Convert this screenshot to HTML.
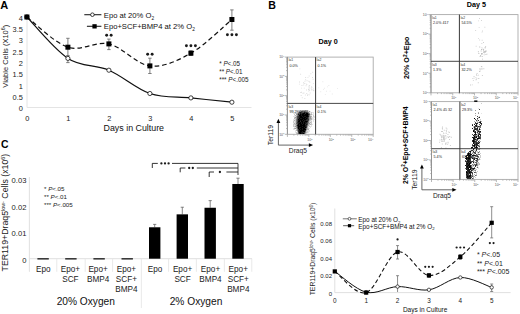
<!DOCTYPE html><html><head><meta charset="utf-8"><style>html,body{margin:0;padding:0;background:#fff;overflow:hidden;}svg{display:block;font-family:"Liberation Sans", sans-serif;}</style></head><body><svg width="520" height="314" viewBox="0 0 520 314"><defs><filter id="soft" x="-10%" y="-10%" width="120%" height="120%"><feGaussianBlur stdDeviation="0.45"/></filter></defs><text x="0.20" y="8.80" font-size="11.0" text-anchor="start" font-weight="bold" fill="#000" >A</text>
<line x1="27.0" y1="14" x2="27.0" y2="107.5" stroke="#e4e4e4" stroke-width="1"/>
<line x1="27.0" y1="107.5" x2="251.5" y2="107.5" stroke="#e4e4e4" stroke-width="1"/>
<text x="22.80" y="111.30" font-size="7.4" text-anchor="end" font-weight="normal" fill="#222" >0</text>
<text x="22.80" y="99.97" font-size="7.4" text-anchor="end" font-weight="normal" fill="#222" >0.5</text>
<text x="22.80" y="88.65" font-size="7.4" text-anchor="end" font-weight="normal" fill="#222" >1</text>
<text x="22.80" y="77.33" font-size="7.4" text-anchor="end" font-weight="normal" fill="#222" >1.5</text>
<text x="22.80" y="66.00" font-size="7.4" text-anchor="end" font-weight="normal" fill="#222" >2</text>
<text x="22.80" y="54.68" font-size="7.4" text-anchor="end" font-weight="normal" fill="#222" >2.5</text>
<text x="22.80" y="43.35" font-size="7.4" text-anchor="end" font-weight="normal" fill="#222" >3</text>
<text x="22.80" y="32.03" font-size="7.4" text-anchor="end" font-weight="normal" fill="#222" >3.5</text>
<text x="22.80" y="20.70" font-size="7.4" text-anchor="end" font-weight="normal" fill="#222" >4</text>
<text x="27.20" y="121.00" font-size="7.4" text-anchor="middle" font-weight="normal" fill="#222" >0</text>
<text x="68.20" y="121.00" font-size="7.4" text-anchor="middle" font-weight="normal" fill="#222" >1</text>
<text x="109.20" y="121.00" font-size="7.4" text-anchor="middle" font-weight="normal" fill="#222" >2</text>
<text x="150.20" y="121.00" font-size="7.4" text-anchor="middle" font-weight="normal" fill="#222" >3</text>
<text x="191.20" y="121.00" font-size="7.4" text-anchor="middle" font-weight="normal" fill="#222" >4</text>
<text x="232.20" y="121.00" font-size="7.4" text-anchor="middle" font-weight="normal" fill="#222" >5</text>
<text x="133.80" y="130.60" font-size="8.85" text-anchor="middle" font-weight="normal" fill="#111" >Days in Culture</text>
<text transform="translate(7.9,56.2) rotate(-90)" font-size="7.5" text-anchor="middle" fill="#222">Viable Cells (X10<tspan font-size="5.4" dy="-2.6">6</tspan><tspan dy="2.6">)</tspan></text>
<line x1="67.90" y1="38.3" x2="67.90" y2="55.5" stroke="#707070" stroke-width="0.9"/>
<line x1="66.20" y1="38.3" x2="69.60" y2="38.3" stroke="#707070" stroke-width="0.9"/>
<line x1="66.20" y1="55.5" x2="69.60" y2="55.5" stroke="#707070" stroke-width="0.9"/>
<line x1="108.90" y1="39.1" x2="108.90" y2="49.6" stroke="#707070" stroke-width="0.9"/>
<line x1="107.20" y1="39.1" x2="110.60" y2="39.1" stroke="#707070" stroke-width="0.9"/>
<line x1="107.20" y1="49.6" x2="110.60" y2="49.6" stroke="#707070" stroke-width="0.9"/>
<line x1="149.90" y1="58.2" x2="149.90" y2="73.5" stroke="#707070" stroke-width="0.9"/>
<line x1="148.20" y1="58.2" x2="151.60" y2="58.2" stroke="#707070" stroke-width="0.9"/>
<line x1="148.20" y1="73.5" x2="151.60" y2="73.5" stroke="#707070" stroke-width="0.9"/>
<line x1="190.90" y1="50.8" x2="190.90" y2="55.5" stroke="#707070" stroke-width="0.9"/>
<line x1="189.20" y1="50.8" x2="192.60" y2="50.8" stroke="#707070" stroke-width="0.9"/>
<line x1="189.20" y1="55.5" x2="192.60" y2="55.5" stroke="#707070" stroke-width="0.9"/>
<line x1="231.90" y1="9.9" x2="231.90" y2="30.2" stroke="#707070" stroke-width="0.9"/>
<line x1="230.20" y1="9.9" x2="233.60" y2="9.9" stroke="#707070" stroke-width="0.9"/>
<line x1="230.20" y1="30.2" x2="233.60" y2="30.2" stroke="#707070" stroke-width="0.9"/>
<line x1="67.90" y1="55.0" x2="67.90" y2="62.6" stroke="#707070" stroke-width="0.9"/>
<line x1="66.20" y1="62.6" x2="69.60" y2="62.6" stroke="#707070" stroke-width="0.9"/>
<path d="M26.90,17.00 C33.73,23.90 54.23,49.53 67.90,58.40 C81.57,67.27 95.23,64.35 108.90,70.20 C122.57,76.05 136.23,88.88 149.90,93.50 C163.57,98.12 177.23,96.45 190.90,97.90 C204.57,99.35 225.07,101.48 231.90,102.20" fill="none" stroke="#111" stroke-width="1.2"/>
<path d="M26.90,17.00 C33.73,22.03 54.23,42.72 67.90,47.20 C81.57,51.68 95.23,40.78 108.90,43.90 C122.57,47.02 136.23,64.35 149.90,65.90 C163.57,67.45 177.23,60.93 190.90,53.20 C204.57,45.47 225.07,25.12 231.90,19.50" fill="none" stroke="#111" stroke-width="1.2" stroke-dasharray="4.6,3"/>
<circle cx="26.90" cy="17.0" r="2.1" fill="#fff" stroke="#111" stroke-width="0.8"/>
<circle cx="67.90" cy="58.4" r="2.1" fill="#fff" stroke="#111" stroke-width="0.8"/>
<circle cx="108.90" cy="70.2" r="2.1" fill="#fff" stroke="#111" stroke-width="0.8"/>
<circle cx="149.90" cy="93.5" r="2.1" fill="#fff" stroke="#111" stroke-width="0.8"/>
<circle cx="190.90" cy="97.9" r="2.1" fill="#fff" stroke="#111" stroke-width="0.8"/>
<circle cx="231.90" cy="102.2" r="2.1" fill="#fff" stroke="#111" stroke-width="0.8"/>
<rect x="24.40" y="14.5" width="5" height="5" fill="#000"/>
<rect x="65.40" y="44.7" width="5" height="5" fill="#000"/>
<rect x="106.40" y="41.4" width="5" height="5" fill="#000"/>
<rect x="147.40" y="63.400000000000006" width="5" height="5" fill="#000"/>
<rect x="188.40" y="50.7" width="5" height="5" fill="#000"/>
<rect x="229.40" y="17.0" width="5" height="5" fill="#000"/>
<circle cx="106.65" cy="35.30" r="1.45" fill="#1a1a1a"/>
<circle cx="111.15" cy="35.30" r="1.45" fill="#1a1a1a"/>
<circle cx="147.65" cy="54.30" r="1.45" fill="#1a1a1a"/>
<circle cx="152.15" cy="54.30" r="1.45" fill="#1a1a1a"/>
<circle cx="186.40" cy="45.80" r="1.45" fill="#1a1a1a"/>
<circle cx="190.90" cy="45.80" r="1.45" fill="#1a1a1a"/>
<circle cx="195.40" cy="45.80" r="1.45" fill="#1a1a1a"/>
<circle cx="227.40" cy="34.70" r="1.45" fill="#1a1a1a"/>
<circle cx="231.90" cy="34.70" r="1.45" fill="#1a1a1a"/>
<circle cx="236.40" cy="34.70" r="1.45" fill="#1a1a1a"/>
<line x1="84.3" y1="14.7" x2="101.4" y2="14.7" stroke="#222" stroke-width="1.1"/>
<circle cx="92.4" cy="14.7" r="1.8" fill="#fff" stroke="#111" stroke-width="0.8"/>
<text x="103.8" y="18.0" font-size="7.65" fill="#111">Epo at 20% O<tspan font-size="4.8" dy="2.2">2</tspan></text>
<line x1="86.9" y1="26.3" x2="101.4" y2="26.3" stroke="#222" stroke-width="1.1"/>
<rect x="92.4" y="24.2" width="4.3" height="4.3" fill="#000"/>
<text x="103.8" y="28.8" font-size="7.65" fill="#111">Epo+SCF+BMP4 at 2% O<tspan font-size="4.8" dy="2.2">2</tspan></text>
<text x="219.2" y="66.2" font-size="6.3" fill="#222">* <tspan font-style="italic">P</tspan>&lt;.05</text>
<text x="219.2" y="73.9" font-size="6.3" fill="#222">** <tspan font-style="italic">P</tspan>&lt;.01</text>
<text x="219.2" y="81.6" font-size="6.3" fill="#222">*** <tspan font-style="italic">P</tspan>&lt;.005</text>
<text x="268.20" y="8.50" font-size="10.6" text-anchor="start" font-weight="bold" fill="#000" >B</text>
<text x="328.20" y="43.80" font-size="7.2" text-anchor="middle" font-weight="bold" fill="#000" >Day 0</text>
<text x="476.40" y="7.20" font-size="7.2" text-anchor="middle" font-weight="bold" fill="#000" >Day 5</text>
<path d="M284.80,134.30H287.40M287.40,134.30V136.90M286.10,128.49H287.40M293.86,134.30V135.60M286.10,125.09H287.40M297.63,134.30V135.60M286.10,122.68H287.40M300.31,134.30V135.60M286.10,120.81H287.40M302.39,134.30V135.60M286.10,119.28H287.40M304.09,134.30V135.60M286.10,117.99H287.40M305.53,134.30V135.60M286.10,116.87H287.40M306.77,134.30V135.60M286.10,115.88H287.40M307.87,134.30V135.60M284.80,115.00H287.40M308.85,134.30V136.90M286.10,109.19H287.40M315.31,134.30V135.60M286.10,105.79H287.40M319.08,134.30V135.60M286.10,103.38H287.40M321.76,134.30V135.60M286.10,101.51H287.40M323.84,134.30V135.60M286.10,99.98H287.40M325.54,134.30V135.60M286.10,98.69H287.40M326.98,134.30V135.60M286.10,97.57H287.40M328.22,134.30V135.60M286.10,96.58H287.40M329.32,134.30V135.60M284.80,95.70H287.40M330.30,134.30V136.90M286.10,89.89H287.40M336.76,134.30V135.60M286.10,86.49H287.40M340.53,134.30V135.60M286.10,84.08H287.40M343.21,134.30V135.60M286.10,82.21H287.40M345.29,134.30V135.60M286.10,80.68H287.40M346.99,134.30V135.60M286.10,79.39H287.40M348.43,134.30V135.60M286.10,78.27H287.40M349.67,134.30V135.60M286.10,77.28H287.40M350.77,134.30V135.60M284.80,76.40H287.40M351.75,134.30V136.90M286.10,70.59H287.40M358.21,134.30V135.60M286.10,67.19H287.40M361.98,134.30V135.60M286.10,64.78H287.40M364.66,134.30V135.60M286.10,62.91H287.40M366.74,134.30V135.60M286.10,61.38H287.40M368.44,134.30V135.60M286.10,60.09H287.40M369.88,134.30V135.60M286.10,58.97H287.40M371.12,134.30V135.60M286.10,57.98H287.40M372.22,134.30V135.60M284.80,57.10H287.40M373.20,134.30V136.90" stroke="#888" stroke-width="0.6" fill="none"/>
<rect x="287.40" y="57.10" width="85.80" height="77.20" fill="none" stroke="#aaa" stroke-width="0.9"/>
<line x1="287.40" y1="57.1" x2="287.40" y2="134.3" stroke="#909090" stroke-width="0.9"/>
<text x="284.40" y="135.60" font-size="3.5" text-anchor="end" fill="#555">10<tspan font-size="2.4" dy="-1.3">0</tspan></text>
<text x="284.40" y="116.30" font-size="3.5" text-anchor="end" fill="#555">10<tspan font-size="2.4" dy="-1.3">1</tspan></text>
<text x="309.85" y="140.90" font-size="3.5" text-anchor="middle" fill="#555">10<tspan font-size="2.4" dy="-1.3">1</tspan></text>
<text x="284.40" y="97.00" font-size="3.5" text-anchor="end" fill="#555">10<tspan font-size="2.4" dy="-1.3">2</tspan></text>
<text x="331.30" y="140.90" font-size="3.5" text-anchor="middle" fill="#555">10<tspan font-size="2.4" dy="-1.3">2</tspan></text>
<text x="284.40" y="77.70" font-size="3.5" text-anchor="end" fill="#555">10<tspan font-size="2.4" dy="-1.3">3</tspan></text>
<text x="352.75" y="140.90" font-size="3.5" text-anchor="middle" fill="#555">10<tspan font-size="2.4" dy="-1.3">3</tspan></text>
<text x="284.40" y="58.40" font-size="3.5" text-anchor="end" fill="#555">10<tspan font-size="2.4" dy="-1.3">4</tspan></text>
<text x="370.70" y="140.90" font-size="3.5" text-anchor="middle" fill="#555">10<tspan font-size="2.4" dy="-1.3">4</tspan></text>
<text x="288.40" y="61.30" font-size="3.4" fill="#333">Ia1</text>
<text x="289.40" y="66.50" font-size="3.7" fill="#222">0.0%</text>
<text x="316.60" y="61.30" font-size="3.4" fill="#333">Ia2</text>
<text x="317.60" y="66.50" font-size="3.7" fill="#222">0.1%</text>
<text x="288.40" y="107.60" font-size="3.4" fill="#333">Ia3</text>
<text x="289.40" y="112.80" font-size="3.7" fill="#222">99.2%</text>
<text x="316.60" y="107.60" font-size="3.4" fill="#333">Ia4</text>
<text x="317.60" y="112.80" font-size="3.7" fill="#222">0.1%</text>
<path d="M306.0,89.6h0.9v0.9h-0.9zM306.1,83.8h0.9v0.9h-0.9zM303.3,84.5h0.9v0.9h-0.9zM311.4,89.0h0.9v0.9h-0.9zM311.1,87.7h0.9v0.9h-0.9zM308.6,87.3h0.9v0.9h-0.9zM300.3,92.0h0.9v0.9h-0.9zM309.0,89.5h0.9v0.9h-0.9zM300.2,73.8h0.9v0.9h-0.9zM303.4,82.7h0.9v0.9h-0.9zM308.2,85.7h0.9v0.9h-0.9zM309.1,81.5h0.9v0.9h-0.9zM308.2,88.8h0.9v0.9h-0.9zM304.4,98.0h0.9v0.9h-0.9zM309.2,94.4h0.9v0.9h-0.9zM304.5,80.8h0.9v0.9h-0.9zM305.6,85.3h0.9v0.9h-0.9zM309.5,87.7h0.9v0.9h-0.9zM305.2,79.3h0.9v0.9h-0.9zM304.9,94.5h0.9v0.9h-0.9zM303.8,87.7h0.9v0.9h-0.9zM308.7,75.6h0.9v0.9h-0.9zM307.2,95.1h0.9v0.9h-0.9zM298.9,83.7h0.9v0.9h-0.9zM306.6,80.3h0.9v0.9h-0.9zM309.0,85.6h0.9v0.9h-0.9zM301.1,91.8h0.9v0.9h-0.9zM309.7,92.6h0.9v0.9h-0.9zM312.8,88.5h0.9v0.9h-0.9zM307.5,76.9h0.9v0.9h-0.9zM309.5,81.7h0.9v0.9h-0.9zM305.2,77.1h0.9v0.9h-0.9zM303.1,82.3h0.9v0.9h-0.9zM312.2,71.8h0.9v0.9h-0.9zM301.2,87.7h0.9v0.9h-0.9zM312.8,90.0h0.9v0.9h-0.9zM299.4,68.4h0.9v0.9h-0.9zM308.4,80.8h0.9v0.9h-0.9zM302.5,92.8h0.9v0.9h-0.9zM311.4,87.1h0.9v0.9h-0.9zM308.0,89.0h0.9v0.9h-0.9zM313.4,90.3h0.9v0.9h-0.9zM309.1,89.8h0.9v0.9h-0.9zM300.7,95.0h0.9v0.9h-0.9zM310.8,89.7h0.9v0.9h-0.9zM299.1,81.6h0.9v0.9h-0.9zM310.4,73.3h0.9v0.9h-0.9zM306.3,93.1h0.9v0.9h-0.9zM301.8,97.3h0.9v0.9h-0.9zM309.2,84.9h0.9v0.9h-0.9zM308.3,90.5h0.9v0.9h-0.9zM307.5,94.0h0.9v0.9h-0.9zM304.4,83.1h0.9v0.9h-0.9zM311.2,86.2h0.9v0.9h-0.9zM303.5,92.6h0.9v0.9h-0.9zM312.9,82.9h0.9v0.9h-0.9zM301.5,85.1h0.9v0.9h-0.9zM306.4,83.9h0.9v0.9h-0.9zM312.6,78.8h0.9v0.9h-0.9zM312.0,77.1h0.9v0.9h-0.9z" fill="#000" fill-opacity="0.14"/>
<path d="M320.3,91.3h0.9v0.9h-0.9zM331.8,93.6h0.9v0.9h-0.9zM327.1,86.4h0.9v0.9h-0.9zM325.9,90.8h0.9v0.9h-0.9zM323.9,87.8h0.9v0.9h-0.9zM328.4,85.0h0.9v0.9h-0.9zM329.6,90.7h0.9v0.9h-0.9zM337.1,88.2h0.9v0.9h-0.9zM322.4,81.3h0.9v0.9h-0.9zM324.9,94.2h0.9v0.9h-0.9zM323.0,88.9h0.9v0.9h-0.9zM318.3,87.4h0.9v0.9h-0.9z" fill="#000" fill-opacity="0.1"/>
<g filter="url(#soft)">
<path d="M308,110h1v1h-1zM296,111h1v1h-1zM310,111h1v1h-1zM296,112h1v1h-1zM297,112h1v1h-1zM310,112h1v1h-1zM312,112h1v1h-1zM313,112h1v1h-1zM293,113h1v1h-1zM294,113h1v1h-1zM310,113h1v1h-1zM313,113h1v1h-1zM312,114h1v1h-1zM313,114h1v1h-1zM294,115h1v1h-1zM311,115h1v1h-1zM293,116h1v1h-1zM294,116h1v1h-1zM295,116h1v1h-1zM314,116h1v1h-1zM312,117h1v1h-1zM313,117h1v1h-1zM314,117h1v1h-1zM312,118h1v1h-1zM313,118h1v1h-1zM293,119h1v1h-1zM294,119h1v1h-1zM312,119h1v1h-1zM313,119h1v1h-1zM314,119h1v1h-1zM293,120h1v1h-1zM311,120h1v1h-1zM313,120h1v1h-1zM294,121h1v1h-1zM310,121h1v1h-1zM313,121h1v1h-1zM294,122h1v1h-1zM293,123h1v1h-1zM310,123h1v1h-1zM312,124h1v1h-1zM294,125h1v1h-1zM309,125h1v1h-1zM311,125h1v1h-1zM308,126h1v1h-1zM310,126h1v1h-1zM311,126h1v1h-1zM294,127h1v1h-1zM295,127h1v1h-1zM308,127h1v1h-1zM310,127h1v1h-1zM293,128h1v1h-1zM309,128h1v1h-1zM293,129h1v1h-1zM294,129h1v1h-1zM295,130h1v1h-1zM307,130h1v1h-1zM308,130h1v1h-1zM309,130h1v1h-1zM295,131h1v1h-1zM308,131h1v1h-1zM309,131h1v1h-1zM295,132h1v1h-1zM308,132h1v1h-1zM306,133h1v1h-1z" fill="#000" fill-opacity="0.10"/>
<path d="M299,110h1v1h-1zM297,111h1v1h-1zM308,111h1v1h-1zM309,112h1v1h-1zM311,112h1v1h-1zM295,113h1v1h-1zM311,113h1v1h-1zM294,114h1v1h-1zM296,115h1v1h-1zM310,115h1v1h-1zM313,115h1v1h-1zM313,116h1v1h-1zM294,117h1v1h-1zM311,117h1v1h-1zM295,118h1v1h-1zM295,119h1v1h-1zM295,120h1v1h-1zM310,120h1v1h-1zM293,121h1v1h-1zM295,121h1v1h-1zM309,121h1v1h-1zM311,121h1v1h-1zM293,122h1v1h-1zM295,122h1v1h-1zM309,122h1v1h-1zM311,122h1v1h-1zM295,123h1v1h-1zM311,123h1v1h-1zM293,124h1v1h-1zM294,124h1v1h-1zM309,124h1v1h-1zM311,124h1v1h-1zM293,125h1v1h-1zM295,125h1v1h-1zM293,126h1v1h-1zM294,126h1v1h-1zM309,126h1v1h-1zM308,128h1v1h-1zM296,129h1v1h-1zM306,131h1v1h-1zM307,131h1v1h-1zM296,132h1v1h-1zM297,132h1v1h-1zM307,132h1v1h-1zM296,133h1v1h-1z" fill="#000" fill-opacity="0.20"/>
<path d="M301,110h1v1h-1zM298,112h1v1h-1zM296,113h1v1h-1zM310,114h1v1h-1zM311,114h1v1h-1zM295,115h1v1h-1zM311,116h1v1h-1zM294,118h1v1h-1zM311,118h1v1h-1zM310,119h1v1h-1zM311,119h1v1h-1zM294,120h1v1h-1zM309,120h1v1h-1zM310,122h1v1h-1zM294,123h1v1h-1zM295,124h1v1h-1zM308,124h1v1h-1zM310,124h1v1h-1zM308,125h1v1h-1zM307,127h1v1h-1zM294,128h1v1h-1zM296,128h1v1h-1zM307,128h1v1h-1zM307,129h1v1h-1zM308,129h1v1h-1zM296,130h1v1h-1zM306,130h1v1h-1zM297,131h1v1h-1zM306,132h1v1h-1zM297,133h1v1h-1zM305,133h1v1h-1z" fill="#000" fill-opacity="0.30"/>
<path d="M300,110h1v1h-1zM302,110h1v1h-1zM303,110h1v1h-1zM304,110h1v1h-1zM306,110h1v1h-1zM307,110h1v1h-1zM299,111h1v1h-1zM309,111h1v1h-1zM297,113h1v1h-1zM296,114h1v1h-1zM296,116h1v1h-1zM310,116h1v1h-1zM295,117h1v1h-1zM296,117h1v1h-1zM309,117h1v1h-1zM310,117h1v1h-1zM296,118h1v1h-1zM309,118h1v1h-1zM310,118h1v1h-1zM309,119h1v1h-1zM308,123h1v1h-1zM309,123h1v1h-1zM296,124h1v1h-1zM295,126h1v1h-1zM296,126h1v1h-1zM307,126h1v1h-1zM296,127h1v1h-1zM295,128h1v1h-1z" fill="#000" fill-opacity="0.40"/>
<path d="M305,110h1v1h-1zM300,111h1v1h-1zM306,111h1v1h-1zM307,111h1v1h-1zM308,112h1v1h-1zM309,113h1v1h-1zM297,114h1v1h-1zM297,115h1v1h-1zM309,115h1v1h-1zM309,116h1v1h-1zM296,119h1v1h-1zM296,120h1v1h-1zM296,121h1v1h-1zM308,121h1v1h-1zM296,122h1v1h-1zM308,122h1v1h-1zM296,125h1v1h-1zM307,125h1v1h-1zM306,128h1v1h-1zM297,129h1v1h-1zM306,129h1v1h-1zM297,130h1v1h-1zM305,132h1v1h-1z" fill="#000" fill-opacity="0.50"/>
<path d="M303,111h1v1h-1zM305,111h1v1h-1zM296,123h1v1h-1zM297,128h1v1h-1zM305,131h1v1h-1zM298,133h1v1h-1z" fill="#000" fill-opacity="0.60"/>
<path d="M301,111h1v1h-1zM302,111h1v1h-1zM304,111h1v1h-1zM299,112h1v1h-1zM302,112h1v1h-1zM303,112h1v1h-1zM307,112h1v1h-1zM298,113h1v1h-1zM299,113h1v1h-1zM308,113h1v1h-1zM309,114h1v1h-1zM298,115h1v1h-1zM297,116h1v1h-1zM297,117h1v1h-1zM308,117h1v1h-1zM297,118h1v1h-1zM308,118h1v1h-1zM297,119h1v1h-1zM297,120h1v1h-1zM308,120h1v1h-1zM297,121h1v1h-1zM307,122h1v1h-1zM297,123h1v1h-1zM307,123h1v1h-1zM297,124h1v1h-1zM307,124h1v1h-1zM297,126h1v1h-1zM297,127h1v1h-1zM298,132h1v1h-1zM304,133h1v1h-1z" fill="#000" fill-opacity="0.70"/>
<path d="M301,112h1v1h-1zM305,112h1v1h-1zM306,112h1v1h-1zM301,113h1v1h-1zM305,113h1v1h-1zM299,114h1v1h-1zM308,115h1v1h-1zM298,116h1v1h-1zM298,117h1v1h-1zM298,118h1v1h-1zM307,119h1v1h-1zM308,119h1v1h-1zM306,120h1v1h-1zM307,120h1v1h-1zM300,121h1v1h-1zM297,122h1v1h-1zM306,123h1v1h-1zM305,124h1v1h-1zM306,125h1v1h-1zM306,126h1v1h-1zM306,127h1v1h-1zM305,128h1v1h-1zM298,129h1v1h-1zM298,130h1v1h-1zM305,130h1v1h-1zM298,131h1v1h-1zM303,132h1v1h-1zM304,132h1v1h-1z" fill="#000" fill-opacity="0.80"/>
<path d="M300,112h1v1h-1zM304,112h1v1h-1zM300,113h1v1h-1zM302,113h1v1h-1zM298,114h1v1h-1zM301,114h1v1h-1zM304,114h1v1h-1zM308,114h1v1h-1zM301,115h1v1h-1zM299,116h1v1h-1zM302,116h1v1h-1zM304,116h1v1h-1zM305,116h1v1h-1zM308,116h1v1h-1zM299,117h1v1h-1zM303,117h1v1h-1zM306,117h1v1h-1zM307,117h1v1h-1zM300,118h1v1h-1zM301,118h1v1h-1zM305,118h1v1h-1zM307,118h1v1h-1zM299,119h1v1h-1zM303,119h1v1h-1zM306,119h1v1h-1zM298,120h1v1h-1zM300,120h1v1h-1zM302,120h1v1h-1zM304,120h1v1h-1zM305,120h1v1h-1zM303,121h1v1h-1zM304,121h1v1h-1zM307,121h1v1h-1zM298,122h1v1h-1zM299,122h1v1h-1zM301,122h1v1h-1zM303,122h1v1h-1zM305,122h1v1h-1zM306,122h1v1h-1zM298,123h1v1h-1zM301,123h1v1h-1zM303,123h1v1h-1zM305,123h1v1h-1zM299,124h1v1h-1zM302,124h1v1h-1zM306,124h1v1h-1zM297,125h1v1h-1zM299,125h1v1h-1zM305,125h1v1h-1zM302,126h1v1h-1zM305,126h1v1h-1zM299,127h1v1h-1zM300,127h1v1h-1zM304,127h1v1h-1zM299,128h1v1h-1zM302,128h1v1h-1zM300,129h1v1h-1zM302,129h1v1h-1zM299,130h1v1h-1zM304,130h1v1h-1zM299,131h1v1h-1zM302,131h1v1h-1zM301,132h1v1h-1zM302,132h1v1h-1zM299,133h1v1h-1zM301,133h1v1h-1zM302,133h1v1h-1z" fill="#000" fill-opacity="0.90"/>
<path d="M303,113h1v1h-1zM304,113h1v1h-1zM306,113h1v1h-1zM307,113h1v1h-1zM300,114h1v1h-1zM302,114h1v1h-1zM303,114h1v1h-1zM305,114h1v1h-1zM306,114h1v1h-1zM307,114h1v1h-1zM299,115h1v1h-1zM300,115h1v1h-1zM302,115h1v1h-1zM303,115h1v1h-1zM304,115h1v1h-1zM305,115h1v1h-1zM306,115h1v1h-1zM307,115h1v1h-1zM300,116h1v1h-1zM301,116h1v1h-1zM303,116h1v1h-1zM306,116h1v1h-1zM307,116h1v1h-1zM300,117h1v1h-1zM301,117h1v1h-1zM302,117h1v1h-1zM304,117h1v1h-1zM305,117h1v1h-1zM299,118h1v1h-1zM302,118h1v1h-1zM303,118h1v1h-1zM304,118h1v1h-1zM306,118h1v1h-1zM298,119h1v1h-1zM300,119h1v1h-1zM301,119h1v1h-1zM302,119h1v1h-1zM304,119h1v1h-1zM305,119h1v1h-1zM299,120h1v1h-1zM301,120h1v1h-1zM303,120h1v1h-1zM298,121h1v1h-1zM299,121h1v1h-1zM301,121h1v1h-1zM302,121h1v1h-1zM305,121h1v1h-1zM306,121h1v1h-1zM300,122h1v1h-1zM302,122h1v1h-1zM304,122h1v1h-1zM299,123h1v1h-1zM300,123h1v1h-1zM302,123h1v1h-1zM304,123h1v1h-1zM298,124h1v1h-1zM300,124h1v1h-1zM301,124h1v1h-1zM303,124h1v1h-1zM304,124h1v1h-1zM298,125h1v1h-1zM300,125h1v1h-1zM301,125h1v1h-1zM302,125h1v1h-1zM303,125h1v1h-1zM304,125h1v1h-1zM298,126h1v1h-1zM299,126h1v1h-1zM300,126h1v1h-1zM301,126h1v1h-1zM303,126h1v1h-1zM304,126h1v1h-1zM298,127h1v1h-1zM301,127h1v1h-1zM302,127h1v1h-1zM303,127h1v1h-1zM305,127h1v1h-1zM298,128h1v1h-1zM300,128h1v1h-1zM301,128h1v1h-1zM303,128h1v1h-1zM304,128h1v1h-1zM299,129h1v1h-1zM301,129h1v1h-1zM303,129h1v1h-1zM304,129h1v1h-1zM305,129h1v1h-1zM300,130h1v1h-1zM301,130h1v1h-1zM302,130h1v1h-1zM303,130h1v1h-1zM300,131h1v1h-1zM301,131h1v1h-1zM303,131h1v1h-1zM304,131h1v1h-1zM299,132h1v1h-1zM300,132h1v1h-1zM300,133h1v1h-1zM303,133h1v1h-1z" fill="#000" fill-opacity="1.00"/>
</g>
<line x1="315.6" y1="57.1" x2="315.6" y2="134.3" stroke="#222" stroke-width="0.9"/>
<line x1="287.4" y1="103.4" x2="373.2" y2="103.4" stroke="#333" stroke-width="0.9"/>
<path d="M428.40,92.80H431.00M431.00,92.80V95.40M429.70,86.91H431.00M437.55,92.80V94.10M429.70,83.47H431.00M441.38,92.80V94.10M429.70,81.03H431.00M444.09,92.80V94.10M429.70,79.14H431.00M446.20,92.80V94.10M429.70,77.59H431.00M447.92,92.80V94.10M429.70,76.28H431.00M449.38,92.80V94.10M429.70,75.14H431.00M450.64,92.80V94.10M429.70,74.14H431.00M451.75,92.80V94.10M428.40,73.25H431.00M452.75,92.80V95.40M429.70,67.36H431.00M459.30,92.80V94.10M429.70,63.92H431.00M463.13,92.80V94.10M429.70,61.48H431.00M465.84,92.80V94.10M429.70,59.59H431.00M467.95,92.80V94.10M429.70,58.04H431.00M469.67,92.80V94.10M429.70,56.73H431.00M471.13,92.80V94.10M429.70,55.59H431.00M472.39,92.80V94.10M429.70,54.59H431.00M473.50,92.80V94.10M428.40,53.70H431.00M474.50,92.80V95.40M429.70,47.81H431.00M481.05,92.80V94.10M429.70,44.37H431.00M484.88,92.80V94.10M429.70,41.93H431.00M487.59,92.80V94.10M429.70,40.04H431.00M489.70,92.80V94.10M429.70,38.49H431.00M491.42,92.80V94.10M429.70,37.18H431.00M492.88,92.80V94.10M429.70,36.04H431.00M494.14,92.80V94.10M429.70,35.04H431.00M495.25,92.80V94.10M428.40,34.15H431.00M496.25,92.80V95.40M429.70,28.26H431.00M502.80,92.80V94.10M429.70,24.82H431.00M506.63,92.80V94.10M429.70,22.38H431.00M509.34,92.80V94.10M429.70,20.49H431.00M511.45,92.80V94.10M429.70,18.94H431.00M513.17,92.80V94.10M429.70,17.63H431.00M514.63,92.80V94.10M429.70,16.49H431.00M515.89,92.80V94.10M429.70,15.49H431.00M517.00,92.80V94.10M428.40,14.60H431.00M518.00,92.80V95.40" stroke="#888" stroke-width="0.6" fill="none"/>
<rect x="431.00" y="14.60" width="87.00" height="78.20" fill="none" stroke="#aaa" stroke-width="0.9"/>
<line x1="431.00" y1="14.6" x2="431.00" y2="92.8" stroke="#909090" stroke-width="0.9"/>
<text x="428.00" y="94.10" font-size="3.5" text-anchor="end" fill="#555">10<tspan font-size="2.4" dy="-1.3">0</tspan></text>
<text x="428.00" y="74.55" font-size="3.5" text-anchor="end" fill="#555">10<tspan font-size="2.4" dy="-1.3">1</tspan></text>
<text x="453.75" y="99.40" font-size="3.5" text-anchor="middle" fill="#555">10<tspan font-size="2.4" dy="-1.3">1</tspan></text>
<text x="428.00" y="55.00" font-size="3.5" text-anchor="end" fill="#555">10<tspan font-size="2.4" dy="-1.3">2</tspan></text>
<text x="475.50" y="99.40" font-size="3.5" text-anchor="middle" fill="#555">10<tspan font-size="2.4" dy="-1.3">2</tspan></text>
<text x="428.00" y="35.45" font-size="3.5" text-anchor="end" fill="#555">10<tspan font-size="2.4" dy="-1.3">3</tspan></text>
<text x="497.25" y="99.40" font-size="3.5" text-anchor="middle" fill="#555">10<tspan font-size="2.4" dy="-1.3">3</tspan></text>
<text x="428.00" y="15.90" font-size="3.5" text-anchor="end" fill="#555">10<tspan font-size="2.4" dy="-1.3">4</tspan></text>
<text x="515.50" y="99.40" font-size="3.5" text-anchor="middle" fill="#555">10<tspan font-size="2.4" dy="-1.3">4</tspan></text>
<text x="432.00" y="18.80" font-size="3.4" fill="#333">Ia1</text>
<text x="433.00" y="24.00" font-size="3.7" fill="#222">2.0% 417</text>
<text x="460.40" y="18.80" font-size="3.4" fill="#333">Ia2</text>
<text x="461.40" y="24.00" font-size="3.7" fill="#222">54.5%</text>
<text x="432.00" y="65.50" font-size="3.4" fill="#333">Ia3</text>
<text x="433.00" y="70.70" font-size="3.7" fill="#222">1.3%</text>
<text x="460.40" y="65.50" font-size="3.4" fill="#333">Ia4</text>
<text x="461.40" y="70.70" font-size="3.7" fill="#222">32.2%</text>
<path d="M483.9,52.4h0.9v0.9h-0.9zM483.0,51.5h0.9v0.9h-0.9zM485.2,46.2h0.9v0.9h-0.9zM479.3,46.5h0.9v0.9h-0.9zM481.1,49.1h0.9v0.9h-0.9zM483.5,51.9h0.9v0.9h-0.9zM482.6,48.8h0.9v0.9h-0.9zM481.4,54.0h0.9v0.9h-0.9zM484.5,51.3h0.9v0.9h-0.9zM481.7,56.0h0.9v0.9h-0.9zM481.0,53.1h0.9v0.9h-0.9zM485.5,50.2h0.9v0.9h-0.9zM484.6,47.4h0.9v0.9h-0.9zM485.1,51.6h0.9v0.9h-0.9zM478.4,53.1h0.9v0.9h-0.9zM480.2,55.1h0.9v0.9h-0.9zM480.7,50.5h0.9v0.9h-0.9zM483.2,49.9h0.9v0.9h-0.9zM483.2,49.2h0.9v0.9h-0.9zM484.2,51.0h0.9v0.9h-0.9zM483.0,42.2h0.9v0.9h-0.9zM485.5,51.1h0.9v0.9h-0.9zM477.9,51.3h0.9v0.9h-0.9zM483.7,54.4h0.9v0.9h-0.9zM479.7,56.0h0.9v0.9h-0.9zM482.1,58.7h0.9v0.9h-0.9zM482.1,53.2h0.9v0.9h-0.9zM481.5,47.4h0.9v0.9h-0.9zM485.4,53.9h0.9v0.9h-0.9zM486.5,53.7h0.9v0.9h-0.9z" fill="#000" fill-opacity="0.28"/>
<path d="M479.0,18.0h0.9v0.9h-0.9zM478.7,26.9h0.9v0.9h-0.9zM478.1,38.2h0.9v0.9h-0.9zM482.1,30.6h0.9v0.9h-0.9zM481.6,31.7h0.9v0.9h-0.9zM481.7,39.8h0.9v0.9h-0.9zM484.4,26.8h0.9v0.9h-0.9zM475.7,45.8h0.9v0.9h-0.9zM481.4,43.0h0.9v0.9h-0.9zM475.2,30.0h0.9v0.9h-0.9zM481.1,20.0h0.9v0.9h-0.9zM479.2,39.5h0.9v0.9h-0.9zM484.8,47.3h0.9v0.9h-0.9zM478.0,20.4h0.9v0.9h-0.9z" fill="#000" fill-opacity="0.18"/>
<path d="M479.6,68.7h0.9v0.9h-0.9zM477.7,77.9h0.9v0.9h-0.9zM471.8,84.4h0.9v0.9h-0.9zM479.5,67.9h0.9v0.9h-0.9zM483.4,68.3h0.9v0.9h-0.9zM479.0,71.1h0.9v0.9h-0.9zM481.9,75.0h0.9v0.9h-0.9zM477.8,82.3h0.9v0.9h-0.9zM479.6,69.1h0.9v0.9h-0.9zM472.9,79.9h0.9v0.9h-0.9zM481.5,67.8h0.9v0.9h-0.9zM481.5,68.8h0.9v0.9h-0.9zM479.7,70.5h0.9v0.9h-0.9zM476.1,73.8h0.9v0.9h-0.9zM481.4,66.2h0.9v0.9h-0.9zM475.5,79.4h0.9v0.9h-0.9zM476.4,75.1h0.9v0.9h-0.9zM480.9,66.0h0.9v0.9h-0.9zM472.3,78.2h0.9v0.9h-0.9zM473.6,77.7h0.9v0.9h-0.9zM479.7,70.4h0.9v0.9h-0.9zM479.3,70.9h0.9v0.9h-0.9zM475.6,79.4h0.9v0.9h-0.9zM476.8,72.9h0.9v0.9h-0.9zM475.9,78.5h0.9v0.9h-0.9zM475.5,76.9h0.9v0.9h-0.9zM478.1,74.7h0.9v0.9h-0.9zM478.5,78.2h0.9v0.9h-0.9zM470.1,84.6h0.9v0.9h-0.9zM473.6,76.0h0.9v0.9h-0.9z" fill="#000" fill-opacity="0.22"/>
<line x1="459.4" y1="14.6" x2="459.4" y2="92.8" stroke="#222" stroke-width="0.9"/>
<line x1="431.0" y1="61.3" x2="518.0" y2="61.3" stroke="#333" stroke-width="0.9"/>
<path d="M428.90,179.40H431.50M431.50,179.40V182.00M430.20,173.54H431.50M438.01,179.40V180.70M430.20,170.12H431.50M441.82,179.40V180.70M430.20,167.69H431.50M444.52,179.40V180.70M430.20,165.81H431.50M446.62,179.40V180.70M430.20,164.26H431.50M448.33,179.40V180.70M430.20,162.96H431.50M449.78,179.40V180.70M430.20,161.83H431.50M451.03,179.40V180.70M430.20,160.84H431.50M452.14,179.40V180.70M428.90,159.95H431.50M453.12,179.40V182.00M430.20,154.09H431.50M459.63,179.40V180.70M430.20,150.67H431.50M463.44,179.40V180.70M430.20,148.24H431.50M466.14,179.40V180.70M430.20,146.36H431.50M468.24,179.40V180.70M430.20,144.81H431.50M469.95,179.40V180.70M430.20,143.51H431.50M471.40,179.40V180.70M430.20,142.38H431.50M472.65,179.40V180.70M430.20,141.39H431.50M473.76,179.40V180.70M428.90,140.50H431.50M474.75,179.40V182.00M430.20,134.64H431.50M481.26,179.40V180.70M430.20,131.22H431.50M485.07,179.40V180.70M430.20,128.79H431.50M487.77,179.40V180.70M430.20,126.91H431.50M489.87,179.40V180.70M430.20,125.36H431.50M491.58,179.40V180.70M430.20,124.06H431.50M493.03,179.40V180.70M430.20,122.93H431.50M494.28,179.40V180.70M430.20,121.94H431.50M495.39,179.40V180.70M428.90,121.05H431.50M496.38,179.40V182.00M430.20,115.19H431.50M502.88,179.40V180.70M430.20,111.77H431.50M506.69,179.40V180.70M430.20,109.34H431.50M509.39,179.40V180.70M430.20,107.46H431.50M511.49,179.40V180.70M430.20,105.91H431.50M513.20,179.40V180.70M430.20,104.61H431.50M514.65,179.40V180.70M430.20,103.48H431.50M515.90,179.40V180.70M430.20,102.49H431.50M517.01,179.40V180.70M428.90,101.60H431.50M518.00,179.40V182.00" stroke="#888" stroke-width="0.6" fill="none"/>
<rect x="431.50" y="101.60" width="86.50" height="77.80" fill="none" stroke="#aaa" stroke-width="0.9"/>
<line x1="431.50" y1="101.6" x2="431.50" y2="179.4" stroke="#909090" stroke-width="0.9"/>
<text x="428.50" y="180.70" font-size="3.5" text-anchor="end" fill="#555">10<tspan font-size="2.4" dy="-1.3">0</tspan></text>
<text x="428.50" y="161.25" font-size="3.5" text-anchor="end" fill="#555">10<tspan font-size="2.4" dy="-1.3">1</tspan></text>
<text x="454.12" y="186.00" font-size="3.5" text-anchor="middle" fill="#555">10<tspan font-size="2.4" dy="-1.3">1</tspan></text>
<text x="428.50" y="141.80" font-size="3.5" text-anchor="end" fill="#555">10<tspan font-size="2.4" dy="-1.3">2</tspan></text>
<text x="475.75" y="186.00" font-size="3.5" text-anchor="middle" fill="#555">10<tspan font-size="2.4" dy="-1.3">2</tspan></text>
<text x="428.50" y="122.35" font-size="3.5" text-anchor="end" fill="#555">10<tspan font-size="2.4" dy="-1.3">3</tspan></text>
<text x="497.38" y="186.00" font-size="3.5" text-anchor="middle" fill="#555">10<tspan font-size="2.4" dy="-1.3">3</tspan></text>
<text x="428.50" y="102.90" font-size="3.5" text-anchor="end" fill="#555">10<tspan font-size="2.4" dy="-1.3">4</tspan></text>
<text x="515.50" y="186.00" font-size="3.5" text-anchor="middle" fill="#555">10<tspan font-size="2.4" dy="-1.3">4</tspan></text>
<text x="432.50" y="105.80" font-size="3.4" fill="#333">Ia1</text>
<text x="433.50" y="111.00" font-size="3.7" fill="#222">2.4% 45 32</text>
<text x="460.90" y="105.80" font-size="3.4" fill="#333">Ia2</text>
<text x="461.90" y="111.00" font-size="3.7" fill="#222">29.3%</text>
<text x="432.50" y="152.90" font-size="3.4" fill="#333">Ia3</text>
<text x="433.50" y="158.10" font-size="3.7" fill="#222">5.4%</text>
<text x="460.90" y="152.90" font-size="3.4" fill="#333">Ia4</text>
<text x="461.90" y="158.10" font-size="3.7" fill="#222">63.1%</text>
<path d="M440.8,135.5h0.9v0.9h-0.9zM446.0,131.2h0.9v0.9h-0.9zM439.2,141.8h0.9v0.9h-0.9zM445.5,142.6h0.9v0.9h-0.9zM441.1,140.8h0.9v0.9h-0.9zM449.9,145.0h0.9v0.9h-0.9zM444.0,137.2h0.9v0.9h-0.9zM444.1,140.5h0.9v0.9h-0.9zM447.2,136.4h0.9v0.9h-0.9zM441.0,139.3h0.9v0.9h-0.9zM443.3,138.8h0.9v0.9h-0.9zM445.2,143.3h0.9v0.9h-0.9zM447.5,134.0h0.9v0.9h-0.9zM445.4,143.9h0.9v0.9h-0.9zM443.1,138.0h0.9v0.9h-0.9zM447.6,141.7h0.9v0.9h-0.9zM445.8,130.1h0.9v0.9h-0.9zM441.2,137.1h0.9v0.9h-0.9zM445.5,147.5h0.9v0.9h-0.9zM442.3,141.1h0.9v0.9h-0.9zM446.5,128.5h0.9v0.9h-0.9zM442.4,136.7h0.9v0.9h-0.9zM443.2,135.3h0.9v0.9h-0.9zM445.7,132.4h0.9v0.9h-0.9zM445.7,133.1h0.9v0.9h-0.9zM443.1,138.4h0.9v0.9h-0.9zM443.0,137.3h0.9v0.9h-0.9zM448.7,136.1h0.9v0.9h-0.9zM444.1,139.3h0.9v0.9h-0.9zM443.5,140.9h0.9v0.9h-0.9zM441.2,138.8h0.9v0.9h-0.9zM443.2,132.4h0.9v0.9h-0.9zM449.1,132.2h0.9v0.9h-0.9zM449.1,139.0h0.9v0.9h-0.9zM448.3,131.6h0.9v0.9h-0.9zM447.6,142.6h0.9v0.9h-0.9zM444.2,135.4h0.9v0.9h-0.9zM450.9,136.8h0.9v0.9h-0.9zM443.4,133.2h0.9v0.9h-0.9zM445.7,137.5h0.9v0.9h-0.9zM445.0,143.7h0.9v0.9h-0.9zM443.6,138.1h0.9v0.9h-0.9zM448.3,131.5h0.9v0.9h-0.9zM447.2,144.2h0.9v0.9h-0.9zM441.0,131.1h0.9v0.9h-0.9zM441.8,127.7h0.9v0.9h-0.9zM445.7,127.6h0.9v0.9h-0.9zM445.8,142.5h0.9v0.9h-0.9zM440.3,134.6h0.9v0.9h-0.9zM439.5,139.5h0.9v0.9h-0.9zM442.6,134.8h0.9v0.9h-0.9zM444.6,138.5h0.9v0.9h-0.9zM443.6,136.1h0.9v0.9h-0.9zM443.1,136.5h0.9v0.9h-0.9zM441.5,136.3h0.9v0.9h-0.9zM439.5,133.8h0.9v0.9h-0.9zM449.5,136.4h0.9v0.9h-0.9zM441.2,137.2h0.9v0.9h-0.9zM442.0,128.6h0.9v0.9h-0.9zM442.6,139.3h0.9v0.9h-0.9zM445.5,135.6h0.9v0.9h-0.9zM442.1,131.1h0.9v0.9h-0.9zM448.0,137.1h0.9v0.9h-0.9zM442.0,126.5h0.9v0.9h-0.9zM440.9,147.1h0.9v0.9h-0.9zM441.5,135.7h0.9v0.9h-0.9zM445.0,135.3h0.9v0.9h-0.9zM443.8,129.8h0.9v0.9h-0.9zM441.8,143.6h0.9v0.9h-0.9zM442.5,139.8h0.9v0.9h-0.9z" fill="#000" fill-opacity="0.22"/>
<g filter="url(#soft)">
<path d="M478,108h1v1h-1zM481,113h1v1h-1zM478,118h1v1h-1zM480,120h1v1h-1zM474,123h1v1h-1zM477,124h1v1h-1zM479,125h1v1h-1zM476,138h1v1h-1zM477,146h1v1h-1zM475,148h1v1h-1zM472,151h1v1h-1zM471,153h1v1h-1zM473,153h1v1h-1zM477,153h1v1h-1zM479,157h1v1h-1zM480,159h1v1h-1zM474,163h1v1h-1zM470,164h1v1h-1zM478,165h1v1h-1zM476,167h1v1h-1zM478,167h1v1h-1zM478,168h1v1h-1zM475,169h1v1h-1zM471,178h1v1h-1z" fill="#000" fill-opacity="0.10"/>
<path d="M481,103h1v1h-1zM479,116h1v1h-1zM480,119h1v1h-1zM477,120h1v1h-1zM476,121h1v1h-1zM477,121h1v1h-1zM479,121h1v1h-1zM481,125h1v1h-1zM473,126h1v1h-1zM473,127h1v1h-1zM478,127h1v1h-1zM473,129h1v1h-1zM478,129h1v1h-1zM479,130h1v1h-1zM476,132h1v1h-1zM478,132h1v1h-1zM477,134h1v1h-1zM473,136h1v1h-1zM478,139h1v1h-1zM480,139h1v1h-1zM479,141h1v1h-1zM479,144h1v1h-1zM479,147h1v1h-1zM472,148h1v1h-1zM479,148h1v1h-1zM480,148h1v1h-1zM477,149h1v1h-1zM470,150h1v1h-1zM474,150h1v1h-1zM475,150h1v1h-1zM471,151h1v1h-1zM476,151h1v1h-1zM477,151h1v1h-1zM469,152h1v1h-1zM472,152h1v1h-1zM477,152h1v1h-1zM479,152h1v1h-1zM478,153h1v1h-1zM480,153h1v1h-1zM474,154h1v1h-1zM471,155h1v1h-1zM480,155h1v1h-1zM474,156h1v1h-1zM480,156h1v1h-1zM475,157h1v1h-1zM480,157h1v1h-1zM471,158h1v1h-1zM476,159h1v1h-1zM466,160h1v1h-1zM478,160h1v1h-1zM474,161h1v1h-1zM474,162h1v1h-1zM477,162h1v1h-1zM471,163h1v1h-1zM473,163h1v1h-1zM478,163h1v1h-1zM479,163h1v1h-1zM473,164h1v1h-1zM478,164h1v1h-1zM472,165h1v1h-1zM474,165h1v1h-1zM472,166h1v1h-1zM473,166h1v1h-1zM477,166h1v1h-1zM472,167h1v1h-1zM475,168h1v1h-1zM474,169h1v1h-1zM476,169h1v1h-1zM470,170h1v1h-1zM473,170h1v1h-1zM473,171h1v1h-1zM475,171h1v1h-1zM477,171h1v1h-1zM471,173h1v1h-1zM476,173h1v1h-1zM469,174h1v1h-1zM476,174h1v1h-1zM473,175h1v1h-1zM475,177h1v1h-1zM466,178h1v1h-1z" fill="#000" fill-opacity="0.20"/>
<path d="M478,112h1v1h-1zM475,115h1v1h-1zM474,121h1v1h-1zM481,121h1v1h-1zM478,122h1v1h-1zM477,125h1v1h-1zM477,133h1v1h-1zM476,135h1v1h-1zM477,135h1v1h-1zM475,140h1v1h-1zM479,140h1v1h-1zM480,141h1v1h-1zM479,143h1v1h-1zM479,145h1v1h-1zM475,146h1v1h-1zM473,150h1v1h-1zM477,154h1v1h-1zM477,157h1v1h-1zM479,158h1v1h-1zM478,162h1v1h-1zM477,163h1v1h-1zM479,164h1v1h-1zM474,170h1v1h-1zM476,172h1v1h-1zM474,174h1v1h-1zM473,176h1v1h-1zM474,176h1v1h-1zM473,177h1v1h-1z" fill="#000" fill-opacity="0.30"/>
<path d="M475,110h1v1h-1zM475,113h1v1h-1zM478,113h1v1h-1zM478,117h1v1h-1zM477,119h1v1h-1zM477,122h1v1h-1zM475,127h1v1h-1zM479,127h1v1h-1zM480,129h1v1h-1zM476,130h1v1h-1zM477,136h1v1h-1zM475,138h1v1h-1zM472,146h1v1h-1zM478,146h1v1h-1zM478,149h1v1h-1zM479,151h1v1h-1zM478,159h1v1h-1zM479,159h1v1h-1zM477,164h1v1h-1zM477,165h1v1h-1zM476,175h1v1h-1zM473,178h1v1h-1z" fill="#000" fill-opacity="0.40"/>
<path d="M477,148h1v1h-1zM479,149h1v1h-1zM472,153h1v1h-1zM474,153h1v1h-1zM473,154h1v1h-1zM471,156h1v1h-1zM473,156h1v1h-1zM475,156h1v1h-1zM473,157h1v1h-1zM478,157h1v1h-1zM475,160h1v1h-1zM476,161h1v1h-1zM472,164h1v1h-1zM475,164h1v1h-1zM471,166h1v1h-1zM474,167h1v1h-1zM471,169h1v1h-1zM475,170h1v1h-1zM471,175h1v1h-1zM472,175h1v1h-1zM471,176h1v1h-1z" fill="#000" fill-opacity="0.50"/>
<path d="M479,124h1v1h-1zM477,126h1v1h-1zM480,126h1v1h-1zM480,127h1v1h-1zM478,130h1v1h-1zM477,131h1v1h-1zM480,132h1v1h-1zM478,133h1v1h-1zM474,135h1v1h-1zM475,135h1v1h-1zM475,136h1v1h-1zM479,136h1v1h-1zM480,136h1v1h-1zM476,139h1v1h-1zM477,140h1v1h-1zM478,142h1v1h-1zM472,144h1v1h-1zM475,145h1v1h-1zM473,146h1v1h-1zM475,151h1v1h-1zM473,152h1v1h-1zM475,152h1v1h-1zM478,152h1v1h-1zM476,154h1v1h-1zM478,154h1v1h-1zM479,154h1v1h-1zM476,155h1v1h-1zM477,155h1v1h-1zM472,156h1v1h-1zM476,156h1v1h-1zM478,156h1v1h-1zM472,157h1v1h-1zM474,157h1v1h-1zM475,158h1v1h-1zM473,159h1v1h-1zM465,160h1v1h-1zM473,160h1v1h-1zM477,160h1v1h-1zM473,161h1v1h-1zM477,161h1v1h-1zM475,162h1v1h-1zM476,162h1v1h-1zM476,163h1v1h-1zM474,164h1v1h-1zM471,165h1v1h-1zM473,165h1v1h-1zM476,165h1v1h-1zM477,167h1v1h-1zM465,168h1v1h-1zM472,169h1v1h-1zM472,170h1v1h-1zM471,171h1v1h-1zM472,172h1v1h-1zM475,172h1v1h-1zM472,174h1v1h-1zM475,175h1v1h-1z" fill="#000" fill-opacity="0.60"/>
<path d="M479,109h1v1h-1zM477,116h1v1h-1zM475,119h1v1h-1zM476,120h1v1h-1zM480,121h1v1h-1zM475,122h1v1h-1zM475,123h1v1h-1zM480,123h1v1h-1zM472,124h1v1h-1zM481,124h1v1h-1zM474,126h1v1h-1zM475,126h1v1h-1zM479,126h1v1h-1zM477,127h1v1h-1zM474,128h1v1h-1zM476,128h1v1h-1zM479,128h1v1h-1zM474,130h1v1h-1zM477,130h1v1h-1zM474,131h1v1h-1zM474,132h1v1h-1zM479,133h1v1h-1zM472,134h1v1h-1zM478,134h1v1h-1zM478,137h1v1h-1zM480,137h1v1h-1zM480,138h1v1h-1zM476,140h1v1h-1zM476,141h1v1h-1zM475,142h1v1h-1zM477,142h1v1h-1zM474,143h1v1h-1zM475,143h1v1h-1zM478,145h1v1h-1zM479,146h1v1h-1zM474,147h1v1h-1zM476,148h1v1h-1zM468,152h1v1h-1zM467,153h1v1h-1zM465,156h1v1h-1zM471,157h1v1h-1zM473,158h1v1h-1zM471,161h1v1h-1zM471,162h1v1h-1zM474,172h1v1h-1zM466,176h1v1h-1zM472,176h1v1h-1zM471,177h1v1h-1zM472,178h1v1h-1z" fill="#000" fill-opacity="0.70"/>
<path d="M477,118h1v1h-1zM478,120h1v1h-1zM477,123h1v1h-1zM476,124h1v1h-1zM480,125h1v1h-1zM478,126h1v1h-1zM475,128h1v1h-1zM474,129h1v1h-1zM476,129h1v1h-1zM477,129h1v1h-1zM475,131h1v1h-1zM479,131h1v1h-1zM477,132h1v1h-1zM479,132h1v1h-1zM476,134h1v1h-1zM480,134h1v1h-1zM480,135h1v1h-1zM475,137h1v1h-1zM479,137h1v1h-1zM473,139h1v1h-1zM477,139h1v1h-1zM472,140h1v1h-1zM474,140h1v1h-1zM472,141h1v1h-1zM475,141h1v1h-1zM478,141h1v1h-1zM474,142h1v1h-1zM476,142h1v1h-1zM477,143h1v1h-1zM475,144h1v1h-1zM477,144h1v1h-1zM472,145h1v1h-1zM476,145h1v1h-1zM477,145h1v1h-1zM477,147h1v1h-1zM471,148h1v1h-1zM471,150h1v1h-1zM472,150h1v1h-1zM476,150h1v1h-1zM469,151h1v1h-1zM473,151h1v1h-1zM470,152h1v1h-1zM474,152h1v1h-1zM470,153h1v1h-1zM475,153h1v1h-1zM467,154h1v1h-1zM469,154h1v1h-1zM466,155h1v1h-1zM475,155h1v1h-1zM470,156h1v1h-1zM477,156h1v1h-1zM467,157h1v1h-1zM470,157h1v1h-1zM470,158h1v1h-1zM474,158h1v1h-1zM477,158h1v1h-1zM467,159h1v1h-1zM470,159h1v1h-1zM477,159h1v1h-1zM469,160h1v1h-1zM470,160h1v1h-1zM476,160h1v1h-1zM465,161h1v1h-1zM466,161h1v1h-1zM470,161h1v1h-1zM472,161h1v1h-1zM466,162h1v1h-1zM467,162h1v1h-1zM469,162h1v1h-1zM468,163h1v1h-1zM476,164h1v1h-1zM466,165h1v1h-1zM468,166h1v1h-1zM475,166h1v1h-1zM471,167h1v1h-1zM466,168h1v1h-1zM471,168h1v1h-1zM472,168h1v1h-1zM467,169h1v1h-1zM473,169h1v1h-1zM467,171h1v1h-1zM470,171h1v1h-1zM468,172h1v1h-1zM466,173h1v1h-1zM468,173h1v1h-1zM469,173h1v1h-1zM470,173h1v1h-1zM472,173h1v1h-1zM467,174h1v1h-1zM468,174h1v1h-1zM466,175h1v1h-1zM468,175h1v1h-1zM466,177h1v1h-1zM469,177h1v1h-1zM470,177h1v1h-1zM467,178h1v1h-1zM468,178h1v1h-1zM469,178h1v1h-1z" fill="#000" fill-opacity="0.80"/>
<path d="M479,117h1v1h-1zM479,122h1v1h-1zM476,123h1v1h-1zM481,123h1v1h-1zM474,124h1v1h-1zM472,125h1v1h-1zM475,125h1v1h-1zM476,125h1v1h-1zM476,126h1v1h-1zM474,127h1v1h-1zM472,128h1v1h-1zM477,128h1v1h-1zM475,129h1v1h-1zM473,130h1v1h-1zM478,131h1v1h-1zM480,131h1v1h-1zM475,133h1v1h-1zM474,134h1v1h-1zM475,134h1v1h-1zM479,134h1v1h-1zM473,135h1v1h-1zM476,136h1v1h-1zM478,136h1v1h-1zM472,137h1v1h-1zM473,137h1v1h-1zM474,137h1v1h-1zM474,138h1v1h-1zM479,138h1v1h-1zM474,139h1v1h-1zM475,139h1v1h-1zM474,141h1v1h-1zM473,142h1v1h-1zM479,142h1v1h-1zM476,143h1v1h-1zM474,144h1v1h-1zM476,144h1v1h-1zM473,145h1v1h-1zM474,146h1v1h-1zM471,147h1v1h-1zM475,147h1v1h-1zM473,148h1v1h-1zM474,148h1v1h-1zM473,149h1v1h-1zM476,149h1v1h-1zM469,153h1v1h-1zM471,154h1v1h-1zM467,155h1v1h-1zM468,155h1v1h-1zM470,155h1v1h-1zM472,155h1v1h-1zM473,155h1v1h-1zM474,155h1v1h-1zM466,156h1v1h-1zM468,156h1v1h-1zM469,156h1v1h-1zM466,157h1v1h-1zM468,157h1v1h-1zM469,157h1v1h-1zM465,158h1v1h-1zM467,158h1v1h-1zM472,158h1v1h-1zM476,158h1v1h-1zM466,159h1v1h-1zM468,159h1v1h-1zM469,159h1v1h-1zM474,159h1v1h-1zM467,160h1v1h-1zM468,160h1v1h-1zM467,161h1v1h-1zM468,161h1v1h-1zM469,161h1v1h-1zM468,162h1v1h-1zM473,162h1v1h-1zM466,163h1v1h-1zM470,163h1v1h-1zM466,164h1v1h-1zM467,164h1v1h-1zM468,164h1v1h-1zM465,165h1v1h-1zM467,165h1v1h-1zM469,165h1v1h-1zM470,165h1v1h-1zM475,165h1v1h-1zM466,166h1v1h-1zM466,167h1v1h-1zM467,167h1v1h-1zM468,167h1v1h-1zM470,167h1v1h-1zM467,168h1v1h-1zM470,168h1v1h-1zM473,168h1v1h-1zM474,168h1v1h-1zM466,169h1v1h-1zM468,169h1v1h-1zM469,169h1v1h-1zM467,170h1v1h-1zM468,170h1v1h-1zM469,170h1v1h-1zM471,170h1v1h-1zM466,171h1v1h-1zM468,171h1v1h-1zM469,171h1v1h-1zM467,172h1v1h-1zM470,172h1v1h-1zM471,172h1v1h-1zM467,173h1v1h-1zM466,174h1v1h-1zM470,174h1v1h-1zM467,175h1v1h-1zM469,175h1v1h-1zM468,176h1v1h-1zM470,176h1v1h-1zM467,177h1v1h-1zM468,177h1v1h-1zM470,178h1v1h-1z" fill="#000" fill-opacity="0.90"/>
<path d="M474,118h1v1h-1zM480,122h1v1h-1zM479,129h1v1h-1zM473,131h1v1h-1zM475,132h1v1h-1zM478,135h1v1h-1zM474,136h1v1h-1zM476,137h1v1h-1zM473,138h1v1h-1zM477,138h1v1h-1zM478,138h1v1h-1zM473,140h1v1h-1zM473,141h1v1h-1zM473,143h1v1h-1zM478,143h1v1h-1zM474,145h1v1h-1zM476,146h1v1h-1zM472,147h1v1h-1zM476,147h1v1h-1zM470,151h1v1h-1zM468,153h1v1h-1zM468,154h1v1h-1zM470,154h1v1h-1zM469,155h1v1h-1zM466,158h1v1h-1zM468,158h1v1h-1zM469,158h1v1h-1zM470,162h1v1h-1zM467,163h1v1h-1zM469,163h1v1h-1zM469,164h1v1h-1zM468,165h1v1h-1zM467,166h1v1h-1zM469,166h1v1h-1zM470,166h1v1h-1zM469,167h1v1h-1zM468,168h1v1h-1zM470,169h1v1h-1zM466,172h1v1h-1zM469,172h1v1h-1zM470,175h1v1h-1zM467,176h1v1h-1zM469,176h1v1h-1z" fill="#000" fill-opacity="1.00"/>
</g>
<rect x="474.2" y="100.4" width="3.2" height="1.6" fill="#111"/>
<line x1="459.9" y1="101.6" x2="459.9" y2="179.4" stroke="#222" stroke-width="0.9"/>
<line x1="431.5" y1="148.7" x2="518.0" y2="148.7" stroke="#333" stroke-width="0.9"/>
<text transform="translate(409.2,57.8) rotate(-90)" font-size="7.2" font-weight="bold" text-anchor="middle" fill="#000">20% O<tspan font-size="4.8" dy="-2.6">2</tspan><tspan dy="2.6">+Epo</tspan></text>
<text transform="translate(407.9,145.2) rotate(-90)" font-size="6.9" font-weight="bold" text-anchor="middle" fill="#000">2% O<tspan font-size="4.6" dy="-2.5">2</tspan><tspan dy="2.5">+Epo+SCF+BMP4</tspan></text>
<path d="M278.4,121.8 V145.1 H310.1" fill="none" stroke="#555" stroke-width="0.9"/>
<path d="M276.5,123.0 L278.4,118.8 L280.29999999999995,123.0Z" fill="#000"/>
<path d="M308.90000000000003,143.2 L313.1,145.1 L308.90000000000003,147.0Z" fill="#000"/>
<text transform="translate(273.4,135.0) rotate(-90)" font-size="6.8" text-anchor="middle" fill="#222">Ter119</text>
<text x="297.9" y="152.8" font-size="6.65" text-anchor="middle" fill="#222">Draq5</text>
<path d="M421.9,167.4 V189.8 H453.5" fill="none" stroke="#555" stroke-width="0.9"/>
<path d="M420.0,168.6 L421.9,164.4 L423.79999999999995,168.6Z" fill="#000"/>
<path d="M452.3,187.9 L456.5,189.8 L452.3,191.70000000000002Z" fill="#000"/>
<text transform="translate(417.3,179.7) rotate(-90)" font-size="6.8" text-anchor="middle" fill="#222">Ter119</text>
<text x="442.0" y="197.8" font-size="6.65" text-anchor="middle" fill="#222">Draq5</text>
<text x="1.00" y="147.60" font-size="10.4" text-anchor="start" font-weight="bold" fill="#000" >C</text>
<line x1="29.4" y1="177" x2="29.4" y2="271.8" stroke="#dcdcdc" stroke-width="0.9"/>
<line x1="29.4" y1="258.7" x2="252" y2="258.7" stroke="#dcdcdc" stroke-width="0.9"/>
<line x1="56.8" y1="258.7" x2="56.8" y2="271.8" stroke="#e6e6e6" stroke-width="0.9"/>
<line x1="85.2" y1="258.7" x2="85.2" y2="271.8" stroke="#e6e6e6" stroke-width="0.9"/>
<line x1="112.6" y1="258.7" x2="112.6" y2="271.8" stroke="#e6e6e6" stroke-width="0.9"/>
<line x1="141.4" y1="258.7" x2="141.4" y2="308" stroke="#e6e6e6" stroke-width="0.9"/>
<line x1="168.6" y1="258.7" x2="168.6" y2="271.8" stroke="#e6e6e6" stroke-width="0.9"/>
<line x1="196.4" y1="258.7" x2="196.4" y2="271.8" stroke="#e6e6e6" stroke-width="0.9"/>
<line x1="224.4" y1="258.7" x2="224.4" y2="271.8" stroke="#e6e6e6" stroke-width="0.9"/>
<line x1="251.8" y1="258.7" x2="251.8" y2="271.8" stroke="#e6e6e6" stroke-width="0.9"/>
<text x="26.40" y="262.50" font-size="7.6" text-anchor="end" font-weight="normal" fill="#222" >0</text>
<text x="26.40" y="236.10" font-size="7.6" text-anchor="end" font-weight="normal" fill="#222" >0.01</text>
<text x="26.40" y="209.70" font-size="7.6" text-anchor="end" font-weight="normal" fill="#222" >0.02</text>
<text x="26.40" y="183.30" font-size="7.6" text-anchor="end" font-weight="normal" fill="#222" >0.03</text>
<text transform="translate(8.2,212.6) rotate(-90)" font-size="8.75" text-anchor="middle" fill="#222">TER119+Draq5<tspan font-size="5.4" dy="-2.9">low-</tspan><tspan dy="2.9"> Cells (x10</tspan><tspan font-size="5.4" dy="-2.9">6</tspan><tspan dy="2.9">)</tspan></text>
<rect x="37.40" y="258.00" width="11.4" height="1.6" fill="#3a3a3a"/>
<rect x="65.20" y="258.00" width="11.4" height="1.6" fill="#3a3a3a"/>
<rect x="93.40" y="258.00" width="11.4" height="1.6" fill="#3a3a3a"/>
<rect x="121.50" y="258.00" width="11.4" height="1.6" fill="#3a3a3a"/>
<line x1="154.70" y1="224.38" x2="154.70" y2="227.28" stroke="#555" stroke-width="0.7"/>
<line x1="153.10" y1="224.38" x2="156.30" y2="224.38" stroke="#555" stroke-width="0.7"/>
<rect x="149.00" y="227.28" width="11.4" height="31.42" fill="#000"/>
<line x1="182.30" y1="207.22" x2="182.30" y2="214.35" stroke="#555" stroke-width="0.7"/>
<line x1="180.70" y1="207.22" x2="183.90" y2="207.22" stroke="#555" stroke-width="0.7"/>
<rect x="176.60" y="214.35" width="11.4" height="44.35" fill="#000"/>
<line x1="210.20" y1="200.62" x2="210.20" y2="207.75" stroke="#555" stroke-width="0.7"/>
<line x1="208.60" y1="200.62" x2="211.80" y2="200.62" stroke="#555" stroke-width="0.7"/>
<rect x="204.50" y="207.75" width="11.4" height="50.95" fill="#000"/>
<line x1="238.00" y1="178.18" x2="238.00" y2="183.99" stroke="#555" stroke-width="0.7"/>
<line x1="236.40" y1="178.18" x2="239.60" y2="178.18" stroke="#555" stroke-width="0.7"/>
<rect x="232.30" y="183.99" width="11.4" height="74.71" fill="#000"/>
<text x="43.40" y="271.50" font-size="8.2" text-anchor="middle" font-weight="normal" fill="#222" >Epo</text>
<text x="70.40" y="271.50" font-size="8.2" text-anchor="middle" font-weight="normal" fill="#222" >Epo+</text>
<text x="70.40" y="281.55" font-size="8.2" text-anchor="middle" font-weight="normal" fill="#222" >SCF</text>
<text x="98.10" y="271.50" font-size="8.2" text-anchor="middle" font-weight="normal" fill="#222" >Epo+</text>
<text x="98.10" y="281.55" font-size="8.2" text-anchor="middle" font-weight="normal" fill="#222" >BMP4</text>
<text x="126.40" y="271.50" font-size="8.2" text-anchor="middle" font-weight="normal" fill="#222" >Epo+</text>
<text x="126.40" y="281.55" font-size="8.2" text-anchor="middle" font-weight="normal" fill="#222" >SCF+</text>
<text x="126.40" y="291.60" font-size="8.2" text-anchor="middle" font-weight="normal" fill="#222" >BMP4</text>
<text x="155.00" y="271.50" font-size="8.2" text-anchor="middle" font-weight="normal" fill="#222" >Epo</text>
<text x="182.60" y="271.50" font-size="8.2" text-anchor="middle" font-weight="normal" fill="#222" >Epo+</text>
<text x="182.60" y="281.55" font-size="8.2" text-anchor="middle" font-weight="normal" fill="#222" >SCF</text>
<text x="210.50" y="271.50" font-size="8.2" text-anchor="middle" font-weight="normal" fill="#222" >Epo+</text>
<text x="210.50" y="281.55" font-size="8.2" text-anchor="middle" font-weight="normal" fill="#222" >BMP4</text>
<text x="238.30" y="271.50" font-size="8.2" text-anchor="middle" font-weight="normal" fill="#222" >Epo+</text>
<text x="238.30" y="281.55" font-size="8.2" text-anchor="middle" font-weight="normal" fill="#222" >SCF+</text>
<text x="238.30" y="291.60" font-size="8.2" text-anchor="middle" font-weight="normal" fill="#222" >BMP4</text>
<text x="85.80" y="305.00" font-size="10.2" text-anchor="middle" font-weight="normal" fill="#111" >20% Oxygen</text>
<text x="196.00" y="305.00" font-size="10.2" text-anchor="middle" font-weight="normal" fill="#111" >2% Oxygen</text>
<text x="44.0" y="191.2" font-size="6.2" fill="#222">* <tspan font-style="italic">P</tspan>&lt;.05</text>
<text x="44.0" y="198.8" font-size="6.2" fill="#222">** <tspan font-style="italic">P</tspan>&lt;.01</text>
<text x="44.0" y="206.6" font-size="6.2" fill="#222">*** <tspan font-style="italic">P</tspan>&lt;.005</text>
<path d="M152.3,168.0 V163.4 H157.8 M172.0,163.4 H238.0" fill="none" stroke="#111" stroke-width="0.85"/>
<circle cx="161.40" cy="163.40" r="1.15" fill="#1a1a1a"/>
<circle cx="165.00" cy="163.40" r="1.15" fill="#1a1a1a"/>
<circle cx="168.60" cy="163.40" r="1.15" fill="#1a1a1a"/>
<path d="M180.2,172.3 V168.0 H185.4 M196.8,168.0 H238.0" fill="none" stroke="#111" stroke-width="0.85"/>
<circle cx="189.20" cy="168.00" r="1.15" fill="#1a1a1a"/>
<circle cx="192.80" cy="168.00" r="1.15" fill="#1a1a1a"/>
<path d="M209.2,177.0 V172.0 H214.0 M226.4,172.0 H238.0" fill="none" stroke="#111" stroke-width="0.85"/>
<circle cx="219.90" cy="172.00" r="1.15" fill="#1a1a1a"/>
<line x1="238.0" y1="163.4" x2="238.0" y2="175" stroke="#111" stroke-width="0.8"/>
<line x1="334.8" y1="208.5" x2="334.8" y2="292.6" stroke="#dcdcdc" stroke-width="0.9"/>
<line x1="334.8" y1="292.6" x2="510.6" y2="292.6" stroke="#dcdcdc" stroke-width="0.9"/>
<text x="332.00" y="295.50" font-size="6.0" text-anchor="end" font-weight="normal" fill="#222" >0</text>
<text x="332.00" y="278.00" font-size="6.0" text-anchor="end" font-weight="normal" fill="#222" >0.02</text>
<text x="332.00" y="260.50" font-size="6.0" text-anchor="end" font-weight="normal" fill="#222" >0.04</text>
<text x="332.00" y="243.00" font-size="6.0" text-anchor="end" font-weight="normal" fill="#222" >0.06</text>
<text x="332.00" y="225.50" font-size="6.0" text-anchor="end" font-weight="normal" fill="#222" >0.08</text>
<text x="334.80" y="303.10" font-size="6.4" text-anchor="middle" font-weight="normal" fill="#222" >0</text>
<text x="366.18" y="303.10" font-size="6.4" text-anchor="middle" font-weight="normal" fill="#222" >1</text>
<text x="397.56" y="303.10" font-size="6.4" text-anchor="middle" font-weight="normal" fill="#222" >2</text>
<text x="428.94" y="303.10" font-size="6.4" text-anchor="middle" font-weight="normal" fill="#222" >3</text>
<text x="460.32" y="303.10" font-size="6.4" text-anchor="middle" font-weight="normal" fill="#222" >4</text>
<text x="491.70" y="303.10" font-size="6.4" text-anchor="middle" font-weight="normal" fill="#222" >5</text>
<text x="425.10" y="311.80" font-size="6.5" text-anchor="middle" font-weight="normal" fill="#111" >Days in Culture</text>
<text transform="translate(315.1,249.0) rotate(-90)" font-size="6.85" text-anchor="middle" fill="#222">TER119+Draq5<tspan font-size="4.5" dy="-2.4">low-</tspan><tspan dy="2.4"> Cells (x10</tspan><tspan font-size="4.5" dy="-2.4">6</tspan><tspan dy="2.4">)</tspan></text>
<line x1="397.56" y1="245.6" x2="397.56" y2="259.0" stroke="#707070" stroke-width="0.8"/>
<line x1="396.06" y1="245.6" x2="399.06" y2="245.6" stroke="#707070" stroke-width="0.8"/>
<line x1="396.06" y1="259.0" x2="399.06" y2="259.0" stroke="#707070" stroke-width="0.8"/>
<line x1="491.70" y1="206.7" x2="491.70" y2="237.9" stroke="#707070" stroke-width="0.8"/>
<line x1="490.20" y1="206.7" x2="493.20" y2="206.7" stroke="#707070" stroke-width="0.8"/>
<line x1="490.20" y1="237.9" x2="493.20" y2="237.9" stroke="#707070" stroke-width="0.8"/>
<line x1="397.56" y1="275.7" x2="397.56" y2="292.0" stroke="#707070" stroke-width="0.8"/>
<line x1="396.06" y1="275.7" x2="399.06" y2="275.7" stroke="#707070" stroke-width="0.8"/>
<line x1="491.70" y1="284.0" x2="491.70" y2="291.5" stroke="#707070" stroke-width="0.8"/>
<line x1="490.20" y1="284.0" x2="493.20" y2="284.0" stroke="#707070" stroke-width="0.8"/>
<line x1="490.20" y1="291.5" x2="493.20" y2="291.5" stroke="#707070" stroke-width="0.8"/>
<line x1="460.32" y1="254.5" x2="460.32" y2="259.5" stroke="#707070" stroke-width="0.8"/>
<line x1="458.82" y1="254.5" x2="461.82" y2="254.5" stroke="#707070" stroke-width="0.8"/>
<line x1="458.82" y1="259.5" x2="461.82" y2="259.5" stroke="#707070" stroke-width="0.8"/>
<line x1="428.94" y1="273.5" x2="428.94" y2="277.5" stroke="#707070" stroke-width="0.8"/>
<line x1="427.44" y1="273.5" x2="430.44" y2="273.5" stroke="#707070" stroke-width="0.8"/>
<line x1="427.44" y1="277.5" x2="430.44" y2="277.5" stroke="#707070" stroke-width="0.8"/>
<path d="M334.80,271.40 C340.03,274.87 355.72,289.67 366.18,292.20 C376.64,294.73 387.10,287.00 397.56,286.60 C408.02,286.20 418.48,291.32 428.94,289.80 C439.40,288.28 449.86,277.90 460.32,277.50 C470.78,277.10 486.47,285.75 491.70,287.40" fill="none" stroke="#111" stroke-width="1.0"/>
<path d="M334.80,271.40 C340.03,274.93 355.72,295.83 366.18,292.60 C376.64,289.37 387.10,254.87 397.56,252.00 C408.02,249.13 418.48,274.58 428.94,275.40 C439.40,276.22 449.86,265.67 460.32,256.90 C470.78,248.13 486.47,228.48 491.70,222.80" fill="none" stroke="#111" stroke-width="1.1" stroke-dasharray="4,2.6"/>
<circle cx="366.18" cy="292.2" r="1.7" fill="#fff" stroke="#111" stroke-width="0.7"/>
<circle cx="397.56" cy="286.6" r="1.7" fill="#fff" stroke="#111" stroke-width="0.7"/>
<circle cx="428.94" cy="289.8" r="1.7" fill="#fff" stroke="#111" stroke-width="0.7"/>
<circle cx="460.32" cy="277.5" r="1.7" fill="#fff" stroke="#111" stroke-width="0.7"/>
<circle cx="491.70" cy="287.4" r="1.7" fill="#fff" stroke="#111" stroke-width="0.7"/>
<rect x="332.70" y="269.29999999999995" width="4.2" height="4.2" fill="#000"/>
<rect x="364.08" y="290.5" width="4.2" height="4.2" fill="#000"/>
<rect x="395.46" y="249.9" width="4.2" height="4.2" fill="#000"/>
<rect x="426.84" y="273.29999999999995" width="4.2" height="4.2" fill="#000"/>
<rect x="458.22" y="254.79999999999998" width="4.2" height="4.2" fill="#000"/>
<rect x="489.60" y="220.70000000000002" width="4.2" height="4.2" fill="#000"/>
<circle cx="397.56" cy="239.40" r="1.1" fill="#1a1a1a"/>
<circle cx="425.24" cy="266.80" r="1.1" fill="#1a1a1a"/>
<circle cx="428.94" cy="266.80" r="1.1" fill="#1a1a1a"/>
<circle cx="432.64" cy="266.80" r="1.1" fill="#1a1a1a"/>
<circle cx="456.62" cy="247.50" r="1.1" fill="#1a1a1a"/>
<circle cx="460.32" cy="247.50" r="1.1" fill="#1a1a1a"/>
<circle cx="464.02" cy="247.50" r="1.1" fill="#1a1a1a"/>
<circle cx="489.85" cy="243.10" r="1.1" fill="#1a1a1a"/>
<circle cx="493.55" cy="243.10" r="1.1" fill="#1a1a1a"/>
<line x1="342.8" y1="218.8" x2="356.8" y2="218.8" stroke="#666" stroke-width="0.9"/>
<circle cx="349.5" cy="218.8" r="1.4" fill="#fff" stroke="#222" stroke-width="0.65"/>
<text x="358.3" y="222.0" font-size="6.4" fill="#111">Epo at 20% O<tspan font-size="4.2" dy="1.5">2</tspan></text>
<line x1="343.1" y1="225.7" x2="354.2" y2="225.7" stroke="#333" stroke-width="0.8"/>
<rect x="347.9" y="224.1" width="3.2" height="3.2" fill="#000"/>
<text x="358.3" y="228.8" font-size="6.4" fill="#111">Epo+SCF+BMP4 at 2% O<tspan font-size="4.2" dy="1.5">2</tspan></text>
<text x="476.9" y="257.0" font-size="7.0" fill="#222">* <tspan font-style="italic">P</tspan>&lt;.05</text>
<text x="476.9" y="265.6" font-size="7.0" fill="#222">** <tspan font-style="italic">P</tspan>&lt;.01</text>
<text x="476.9" y="274.2" font-size="7.0" fill="#222">*** <tspan font-style="italic">P</tspan>&lt;.005</text></svg></body></html>
